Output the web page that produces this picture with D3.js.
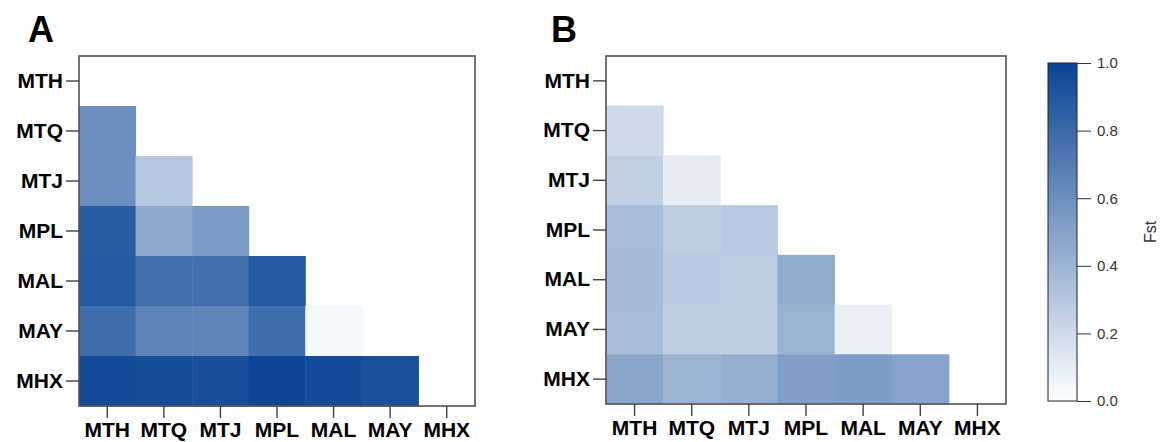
<!DOCTYPE html>
<html>
<head>
<meta charset="utf-8">
<script src="https://cdn.jsdelivr.net/npm/d3@7"></script>
<style>
  body { margin: 0; background: #fff; }
  svg text { font-family: "Liberation Sans", Arial, sans-serif; }
</style>
</head>
<body>
<svg id="chart" width="1165" height="442"></svg>
<script>
'use strict';

// populations, same order on both axes
const pops = ["MTH", "MTQ", "MTJ", "MPL", "MAL", "MAY", "MHX"];

// lower triangle, row i has values for columns 0..i-1
const fstA = [
  [],
  [0.60],
  [0.60, 0.30],
  [0.87, 0.46, 0.54],
  [0.89, 0.77, 0.77, 0.88],
  [0.78, 0.66, 0.65, 0.78, 0.04],
  [0.96, 0.95, 0.94, 0.99, 0.96, 0.93]
];

const fstB = [
  [],
  [0.20],
  [0.25, 0.10],
  [0.36, 0.27, 0.29],
  [0.37, 0.29, 0.27, 0.45],
  [0.36, 0.26, 0.26, 0.41, 0.08],
  [0.48, 0.41, 0.43, 0.52, 0.53, 0.49]
];

const legendTicks = [0, 0.2, 0.4, 0.6, 0.8, 1.0];

const svg = d3.select("#chart");
const color = d3.scaleLinear().domain([0, 1]).range(["#ffffff", "#0a4494"]);

function panel(letter, values, box) {
  const g = svg.append("g");

  const x = d3.scaleBand().domain(pops).range([box.x0, box.x1]);
  const y = d3.scaleBand().domain(pops).range([box.y0, box.y1]);

  // flatten triangle to cells
  const cells = [];
  values.forEach((row, i) => row.forEach((v, j) => cells.push({ r: pops[i], c: pops[j], v: v })));

  g.selectAll("rect.cell")
    .data(cells)
    .join("rect")
    .attr("class", "cell")
    .attr("x", d => x(d.c))
    .attr("y", d => y(d.r))
    .attr("width", x.bandwidth() + 0.5)
    .attr("height", y.bandwidth() + 0.5)
    .attr("fill", d => color(d.v));

  // frame
  g.append("rect")
    .attr("x", box.x0).attr("y", box.y0)
    .attr("width", box.x1 - box.x0).attr("height", box.y1 - box.y0)
    .attr("fill", "none")
    .attr("stroke", "#5a5050")
    .attr("stroke-width", 1.6);

  const xAxis = g.append("g")
    .attr("transform", "translate(0," + box.y1 + ")")
    .call(d3.axisBottom(x).tickSize(12).tickPadding(4));
  const yAxis = g.append("g")
    .attr("transform", "translate(" + box.x0 + ",0)")
    .call(d3.axisLeft(y).tickSize(13).tickPadding(3));

  [xAxis, yAxis].forEach(a => {
    a.select(".domain").remove();
    a.selectAll("line").attr("stroke", "#4a4040").attr("stroke-width", 1.4);
    a.selectAll("text")
      .attr("fill", "#000")
      .style("font-size", "21px")
      .style("font-weight", "bold");
  });

  g.append("text")
    .attr("x", box.lx).attr("y", 42)
    .style("font-size", "36px")
    .style("font-weight", "bold")
    .text(letter);
}

panel("A", fstA, { x0: 79, x1: 475, y0: 56, y1: 406, lx: 28 });
panel("B", fstB, { x0: 606, x1: 1006, y0: 56, y1: 404, lx: 551 });

// colour bar legend
const lg = svg.append("g");
const ly = d3.scaleLinear().domain([0, 1]).range([401, 63]);
const defs = svg.append("defs");
const grad = defs.append("linearGradient")
  .attr("id", "fstGrad")
  .attr("x1", 0).attr("y1", 1).attr("x2", 0).attr("y2", 0);
legendTicks.forEach(t => grad.append("stop").attr("offset", t).attr("stop-color", color(t)));

lg.append("rect")
  .attr("x", 1048).attr("y", ly(1))
  .attr("width", 29).attr("height", ly(0) - ly(1))
  .attr("fill", "url(#fstGrad)")
  .attr("stroke", "#222")
  .attr("stroke-width", 1);

const lAxis = lg.append("g")
  .attr("transform", "translate(1077,0)")
  .call(d3.axisRight(ly).tickValues(legendTicks).tickFormat(d3.format(".1f")).tickSize(14).tickPadding(6));
lAxis.select(".domain").remove();
lAxis.selectAll("line").attr("stroke", "#333");
lAxis.selectAll("text").attr("fill", "#333").style("font-size", "15px");

lg.append("text")
  .attr("transform", "translate(1156,232) rotate(-90)")
  .attr("text-anchor", "middle")
  .attr("fill", "#333")
  .style("font-size", "16px")
  .text("Fst");
</script>
</body>
</html>
